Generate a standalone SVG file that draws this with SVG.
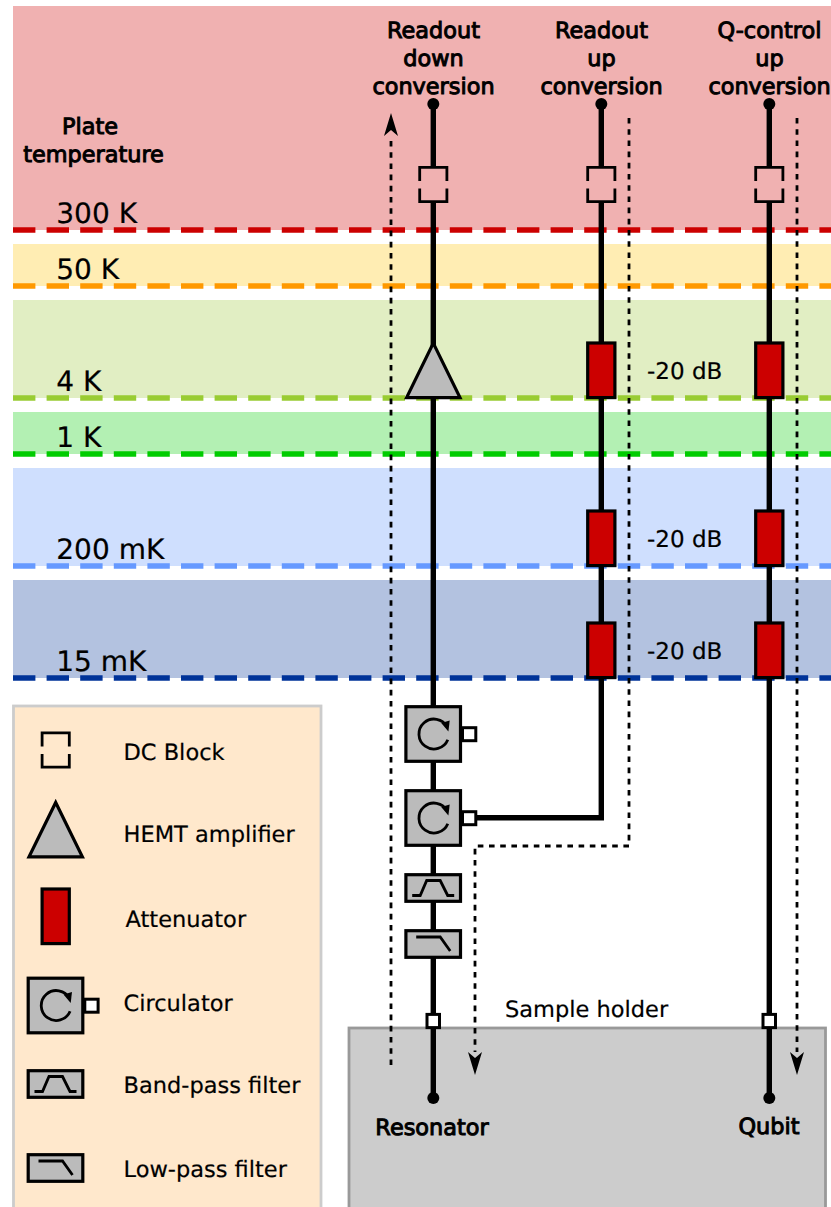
<svg xmlns="http://www.w3.org/2000/svg" width="831" height="1207" viewBox="0 0 831 1207">
<style>
text{font-family:"DejaVu Sans",Verdana,sans-serif;font-size:22.5px;fill:#000;text-rendering:geometricPrecision;stroke:#000;stroke-width:.2px}
.t{font-size:28px}
.db{font-size:23px}
.h{stroke:#000;stroke-width:1px;text-anchor:middle;font-size:22.4px}
.pl{fill:none;stroke-width:5.6;stroke-dasharray:22.4 11.2}
.w{fill:none;stroke:#000;stroke-width:5.4}
.d{fill:none;stroke:#000;stroke-width:2.8;stroke-dasharray:5.6 5.6}
.k{fill:none;stroke:#000;stroke-width:2.8}
.g{fill:#bbb;stroke:#000;stroke-width:3.2}
.a{fill:#c00;stroke:#000;stroke-width:3.2}
.s{fill:#fff;stroke:#000;stroke-width:3}
</style>
<defs>
<marker id="arr" markerUnits="userSpaceOnUse" markerWidth="26" markerHeight="16" refX="0" refY="8" orient="auto"><path d="M23 8L0 1L6 8L0 15Z" fill="#000"/></marker>
<g id="dcblock"><path class="k" d="M-13.600-3.600V-17.100H13.600V-3.600M-13.600 3.900V17.100H13.600V3.900"/></g>
<g id="circ"><rect class="g" x="-27.300" y="-27.300" width="54.600" height="54.600"/><rect class="s" x="29.300" y="-6.300" width="13.300" height="13"/><path class="k" d="M14.600 5.800A15 15 0 1 1 14-7"/><path d="M15.200-2.500L16.500-13.500L8-11Z" fill="#000"/></g>
<g id="bpf"><rect class="g" x="-27.300" y="-13.300" width="54.600" height="26.600"/><path class="k" d="M-21 7.500H-13L-6.500-7.500H7L14.500 7.500H21"/></g>
<g id="lpf"><rect class="g" x="-27.300" y="-13.300" width="54.600" height="26.600"/><path class="k" d="M-17-7H7L17 7"/></g>
<rect id="att" class="a" x="-13.600" y="-27.300" width="27.200" height="54.600"/>
</defs>
<g id="plates">
<rect x="13" y="6" width="818" height="224" fill="#f0b1b1"/>
<rect x="13" y="244" width="818" height="42" fill="#ffedb3"/>
<rect x="13" y="300" width="818" height="98" fill="#e1eec3"/>
<rect x="13" y="412" width="818" height="42" fill="#b3f0b3"/>
<rect x="13" y="468" width="818" height="98" fill="#cfdffe"/>
<rect x="13" y="580" width="818" height="98" fill="#b3c2e0"/>
<path class="pl" stroke="#c00" d="M13 230H831"/>
<path class="pl" stroke="#f90" d="M13 286H831"/>
<path class="pl" stroke="#9c3" d="M13 398H831"/>
<path class="pl" stroke="#0c0" d="M13 454H831"/>
<path class="pl" stroke="#69f" d="M13 566H831"/>
<path class="pl" stroke="#039" d="M13 678H831"/>
</g>
<g id="sample-holder"><rect x="349" y="1028" width="476.500" height="190" fill="#ccc" stroke="#999" stroke-width="2.800"/></g>
<g id="legend-panel"><rect x="13.500" y="706" width="307.500" height="512" fill="#ffe8cc" stroke="#ccc" stroke-width="2.800"/></g>
<g id="temperature-labels">
<text x="90" y="134" class="h">Plate</text>
<text x="93.500" y="162" class="h">temperature</text>
<text class="t" x="56.300" y="222.500">300 K</text>
<text class="t" x="56.300" y="278.500">50 K</text>
<text class="t" x="56.300" y="390.500">4 K</text>
<text class="t" x="56.300" y="446.500">1 K</text>
<text class="t" x="56.300" y="558.500">200 mK</text>
<text class="t" x="56.300" y="670.500">15 mK</text>
</g>
<g id="connectors">
<path class="w" d="M433.300 104V166M433.300 203V1098"/>
<path class="w" d="M601.300 104V166M601.300 203V817.800H476"/>
<path class="w" d="M769.300 104V166M769.300 203V1098"/>
<path class="d" d="M391 1065V136" marker-end="url(#arr)"/>
<path class="d" d="M629 118V846H475V1052" marker-end="url(#arr)"/>
<path class="d" d="M797 118V1052" marker-end="url(#arr)"/>
</g>
<g id="term-rd-top"><circle cx="433.300" cy="104" r="6"/></g>
<g id="term-ru-top"><circle cx="601.300" cy="104" r="6"/></g>
<g id="term-q-top"><circle cx="769.300" cy="104" r="6"/></g>
<g id="term-res"><circle cx="433.300" cy="1098" r="6"/></g>
<g id="term-qubit"><circle cx="769.300" cy="1098" r="6"/></g>
<g id="dc-rd"><use href="#dcblock" x="433.300" y="184.500"/></g>
<g id="dc-ru"><use href="#dcblock" x="601.300" y="184.500"/></g>
<g id="dc-q"><use href="#dcblock" x="769.300" y="184.500"/></g>
<g id="hemt"><path class="g" d="M433.300 343.100L460 397.600H406.600Z"/></g>
<g id="att-ru-4k"><use href="#att" x="601.300" y="370.300"/></g>
<g id="att-ru-200"><use href="#att" x="601.300" y="538.300"/></g>
<g id="att-ru-15"><use href="#att" x="601.300" y="650.300"/></g>
<g id="att-q-4k"><use href="#att" x="769.300" y="370.300"/></g>
<g id="att-q-200"><use href="#att" x="769.300" y="538.300"/></g>
<g id="att-q-15"><use href="#att" x="769.300" y="650.300"/></g>
<g id="circ-1"><use href="#circ" x="433.200" y="734"/></g>
<g id="circ-2"><use href="#circ" x="433.200" y="818"/></g>
<g id="bpf-main"><use href="#bpf" x="433.200" y="888"/></g>
<g id="lpf-main"><use href="#lpf" x="433.200" y="944"/></g>
<g id="port-res"><rect class="s" x="427" y="1014.400" width="12.500" height="13.200"/></g>
<g id="port-qubit"><rect class="s" x="763" y="1014.400" width="12.500" height="13.200"/></g>
<g id="line-labels">
<text x="433.500" y="37.800" class="h">Readout</text><text x="433.500" y="65.800" class="h">down</text><text x="433.500" y="93.800" class="h">conversion</text>
<text x="601.500" y="37.800" class="h">Readout</text><text x="601.500" y="65.800" class="h">up</text><text x="601.500" y="93.800" class="h">conversion</text>
<text x="769.500" y="37.800" class="h">Q-control</text><text x="769.500" y="65.800" class="h">up</text><text x="769.500" y="93.800" class="h">conversion</text>
<text class="db" x="647" y="379">-20 dB</text><text class="db" x="647" y="547">-20 dB</text><text class="db" x="647" y="659">-20 dB</text>
<text x="505" y="1017">Sample holder</text>
<text x="432" y="1134.500" class="h">Resonator</text>
<text x="769" y="1133.500" class="h">Qubit</text>
</g>
<g id="legend">
<use href="#dcblock" x="55.700" y="750"/>
<path class="g" d="M55.700 802.500L82.400 856.900H29Z"/>
<use href="#att" x="55.700" y="916.300"/>
<use href="#circ" x="55.500" y="1005.500"/>
<use href="#bpf" x="55.500" y="1084"/>
<use href="#lpf" x="55.500" y="1168"/>
<text x="123.500" y="759.500">DC Block</text>
<text x="123.500" y="841.500">HEMT amplifier</text>
<text x="125.500" y="926.500">Attenuator</text>
<text x="123.500" y="1011">Circulator</text>
<text x="123.500" y="1093">Band-pass filter</text>
<text x="123.500" y="1177">Low-pass filter</text>
</g>
</svg>
